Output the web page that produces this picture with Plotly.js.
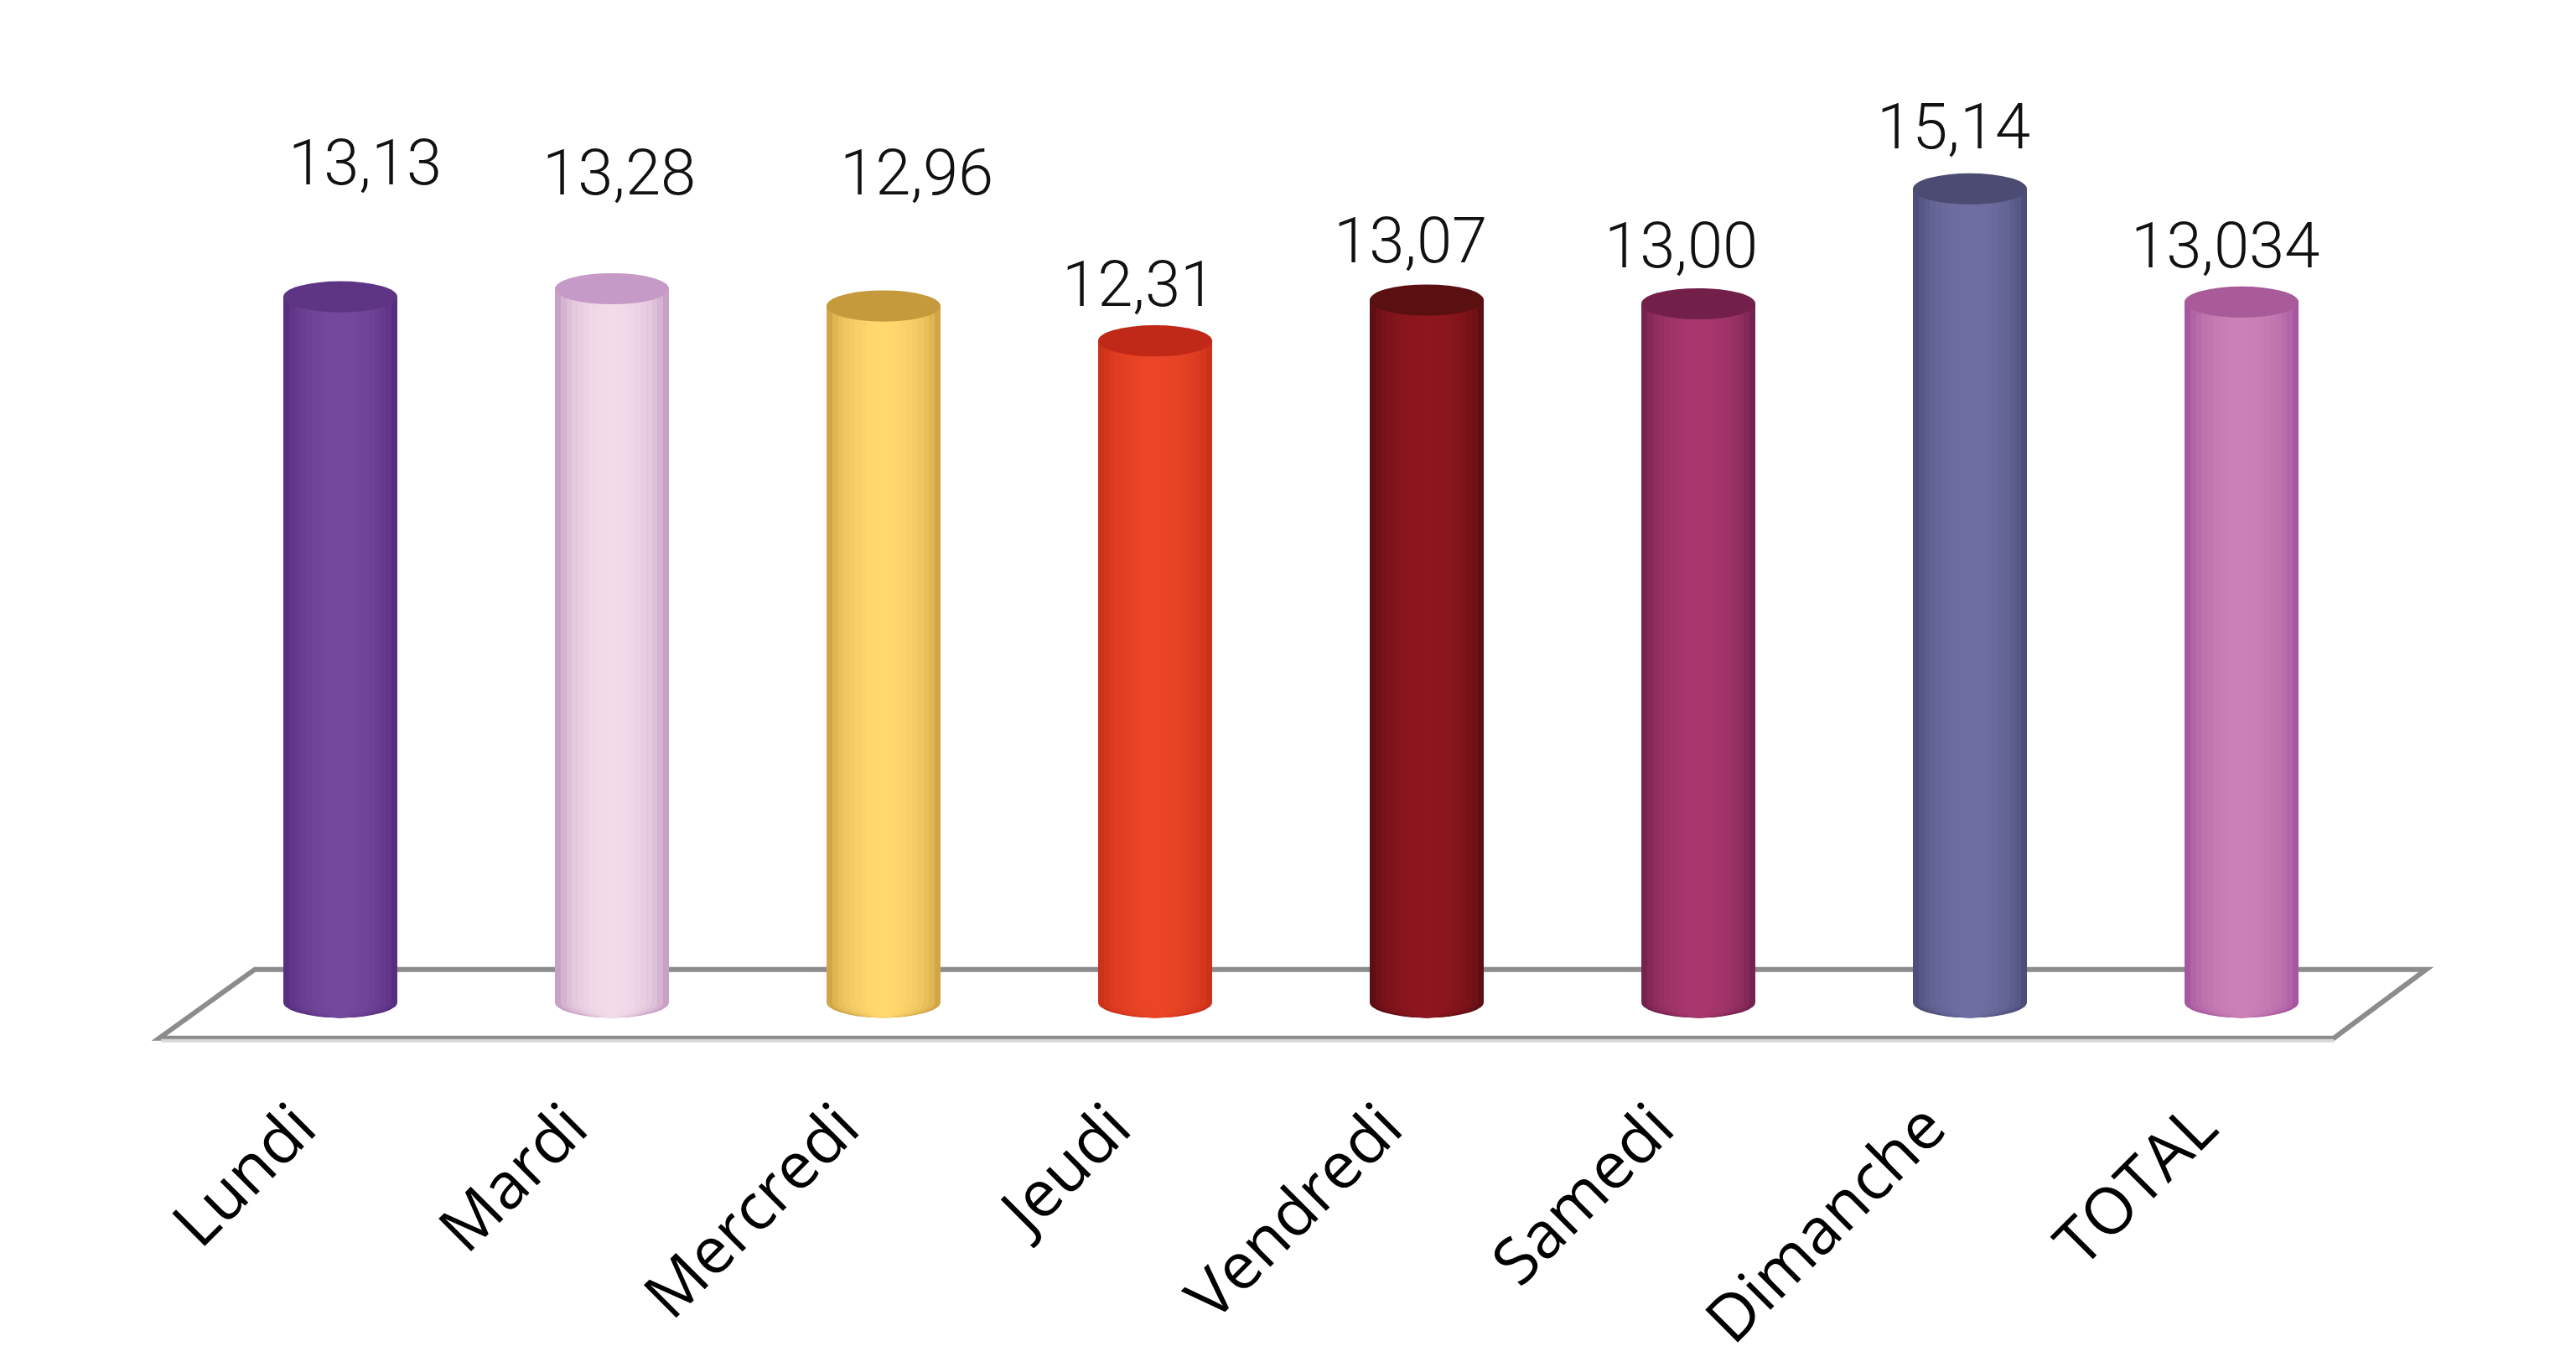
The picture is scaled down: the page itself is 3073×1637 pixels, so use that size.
<!DOCTYPE html>
<html><head><meta charset="utf-8">
<script src="https://cdn.plot.ly/plotly-3.0.1.min.js"></script>
<style>html,body{margin:0;padding:0;background:#fff}#chart{width:3073px;height:1637px}</style>
</head><body><div id="chart"></div>
<script>
// ---- data ----
const categories = ['Lundi', 'Mardi', 'Mercredi', 'Jeudi', 'Vendredi', 'Samedi', 'Dimanche', 'TOTAL'];
const values = [13.13, 13.28, 12.96, 12.31, 13.07, 13.00, 15.14, 13.034];
const decimals = [2, 2, 2, 2, 2, 2, 2, 3];

// ---- styles ----
const edgeColors   = ['#4a2276', '#b587b5', '#bb9036', '#be2814', '#4a0b0f', '#5e1840', '#404068', '#964494'];
const centerColors = ['#74489a', '#f3dcea', '#ffd86e', '#ea4526', '#8e161e', '#a8376e', '#6e6ea2', '#cb80b6'];
const topColors    = ['#5e3585', '#c69ac6', '#c49a3c', '#c02818', '#5a0f10', '#72204a', '#4c4c72', '#a85b98'];
const labelShiftX = [29, 8, 39, -20, -20, -21, -20, -20];
const labelShiftY = [160, 139, 159, 68, 71, 69, 74, 67];

function hex2rgb(h) { h = h.replace('#', ''); return [0, 2, 4].map(i => parseInt(h.substr(i, 2), 16)); }
function mix(a, b, t) {
  const A = hex2rgb(a), B = hex2rgb(b);
  return 'rgb(' + A.map((v, i) => Math.round(v + (B[i] - v) * t)).join(',') + ')';
}

const fullW = 0.42;      // bar width in category units
const capH = 0.29;       // half height of elliptic caps (data units)
const nLayers = 10;

const traces = [];
const shapes = [];

// floor plane
shapes.push({
  type: 'path', xref: 'x', yref: 'y', layer: 'below',
  path: 'M -0.315 0.61 L 7.68 0.61 L 7.34 -0.67 L -0.667 -0.67 Z',
  fillcolor: '#ffffff', line: { color: '#8c8c8c', width: 6 }
});
shapes.push({
  type: 'line', xref: 'x', yref: 'y', layer: 'below',
  x0: -0.66, x1: 7.34, y0: -0.72, y1: -0.72,
  line: { color: '#d8d8d8', width: 4 }
});

for (let k = 0; k < nLayers; k++) {
  const f = 1 - k / nLayers;
  const w = fullW * f;
  const t = Math.sqrt(Math.max(0, 1 - Math.pow(f - 0.5 / nLayers, 2)));
  const cols = categories.map((c, i) => mix(edgeColors[i], centerColors[i], t));
  traces.push({
    type: 'bar', x: categories, y: values, width: w,
    marker: { color: cols, line: { width: 0 } },
    hoverinfo: 'skip', showlegend: false
  });
  categories.forEach((c, i) => {
    shapes.push({
      type: 'circle', xref: 'x', yref: 'y', layer: 'below',
      x0: i - w / 2, x1: i + w / 2, y0: -capH, y1: capH,
      fillcolor: cols[i], line: { width: 0 }
    });
  });
}

// top caps
values.forEach((v, i) => {
  shapes.push({
    type: 'circle', xref: 'x', yref: 'y', layer: 'above',
    x0: i - fullW / 2, x1: i + fullW / 2, y0: v - capH, y1: v + capH,
    fillcolor: topColors[i], line: { width: 0 }
  });
});

const annotations = values.map((v, i) => ({
  x: categories[i], y: v, xref: 'x', yref: 'y',
  text: v.toFixed(decimals[i]).replace('.', ','),
  showarrow: false, xanchor: 'center', yanchor: 'middle',
  xshift: labelShiftX[i], yshift: labelShiftY[i],
  font: { family: 'Roboto, sans-serif', size: 76, color: '#111111', weight: 300 }
}));

const layout = {
  width: 3073, height: 1637,
  margin: { l: 163, r: 156, t: 42, b: 390 },
  paper_bgcolor: '#ffffff', plot_bgcolor: '#ffffff',
  barmode: 'overlay', bargap: 0,
  showlegend: false,
  xaxis: {
    type: 'category', range: [-0.75, 7.75],
    showgrid: false, zeroline: false, showline: false, ticks: '',
    tickangle: -45, ticklabelstandoff: 36, ticklabelshift: -52,
    tickfont: { family: 'Open Sans, Noto Sans, sans-serif', size: 77, color: '#000000', weight: 500 }
  },
  yaxis: { range: [-0.8, 18], visible: false, showgrid: false, zeroline: false },
  shapes: shapes,
  annotations: annotations
};

Plotly.newPlot('chart', traces, layout, { displayModeBar: false, staticPlot: true });
</script>
</body></html>
